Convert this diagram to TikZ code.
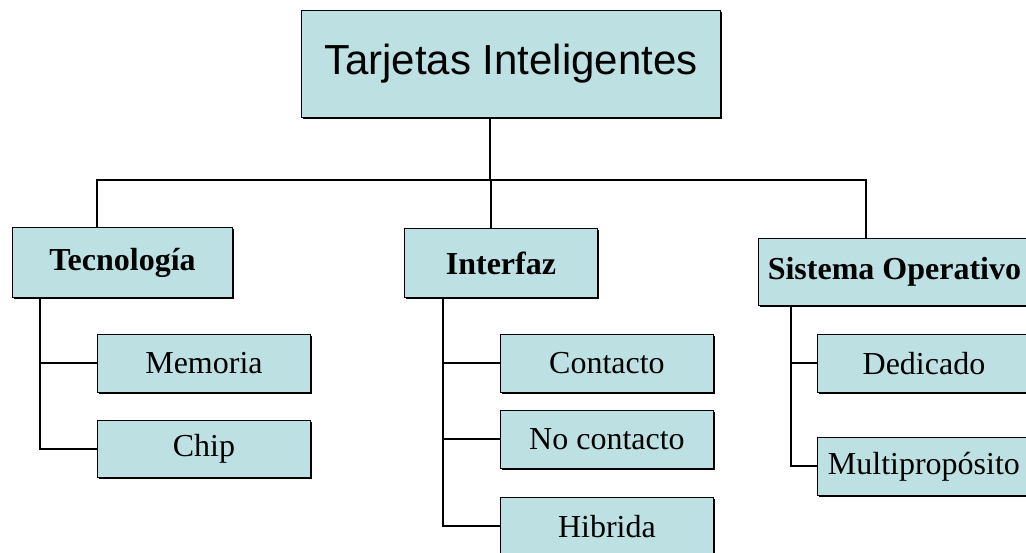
\documentclass[tikz,border=0pt]{standalone}
\usepackage{fontspec}
\setmainfont{Liberation Serif}
\newfontfamily\titlefont{Liberation Sans}
\usetikzlibrary{shadows}
\definecolor{boxfill}{RGB}{189,224,227}
\begin{document}
\begin{tikzpicture}[x=1pt,y=-1pt,
  box/.style={draw=black, line width=0.9pt, fill=boxfill, anchor=north west, inner sep=0pt,
    drop shadow={shadow xshift=2pt, shadow yshift=-2pt, fill=black, opacity=1}},
  topbox/.style={box, minimum width=419pt, minimum height=107pt, font=\titlefont\fontsize{42}{50}\selectfont},
  midbox/.style={box, minimum height=70pt, font=\bfseries\fontsize{32}{38}\selectfont},
  leafbox/.style={box, minimum width=213pt, minimum height=58pt, font=\fontsize{32}{38}\selectfont},
  conn/.style={draw=black, line width=2pt}]
\useasboundingbox (0,0) rectangle (1026,552);
\clip (0,0) rectangle (1026,552);
\fill[white] (0,0) rectangle (1026,552);

\node[topbox] (top) at (301,10) {Tarjetas Inteligentes};

\node[midbox, minimum width=220pt] (tec) at (12,227) {Tecnología};
\node[midbox, minimum width=193pt, minimum height=69pt] (int) at (404,228) {Interfaz};
\node[midbox, minimum width=272pt, minimum height=67pt] (so) at (758,238) {Sistema Operativo};

\node[leafbox] (mem) at (97,334) {Memoria};
\node[leafbox, minimum height=57pt] (chip) at (97,420) {Chip};

\node[leafbox] (con) at (500,334) {Contacto};
\node[leafbox] (noc) at (500,410) {No contacto};
\node[leafbox] (hib) at (500,497) {Hibrida};

\node[leafbox] (ded) at (817,334) {Dedicado};
\node[leafbox] (mul) at (817,437) {Multipropósito};

% main bus
\coordinate (tops) at (490,117);
\coordinate (bus) at (0,180);
\coordinate (tecn) at (97,227);
\coordinate (intn) at (491,228);
\coordinate (son) at (866,238);
\draw[conn] (tops) -- (tops |- bus);
\draw[conn] (tecn) -- (tecn |- bus) -- (son |- bus) -- (son);
\draw[conn] (intn) -- (intn |- bus);

% branches
\coordinate (tecs) at (40,297);
\coordinate (ints) at (443,297);
\coordinate (sos) at (791,305);
\draw[conn] (tecs) |- (mem.west);
\draw[conn] (tecs) |- (chip.west);
\draw[conn] (ints) |- (con.west);
\draw[conn] (ints) |- (noc.west);
\draw[conn] (ints) |- (hib.west);
\draw[conn] (sos) |- (ded.west);
\draw[conn] (sos) |- (mul.west);
\end{tikzpicture}
\end{document}
